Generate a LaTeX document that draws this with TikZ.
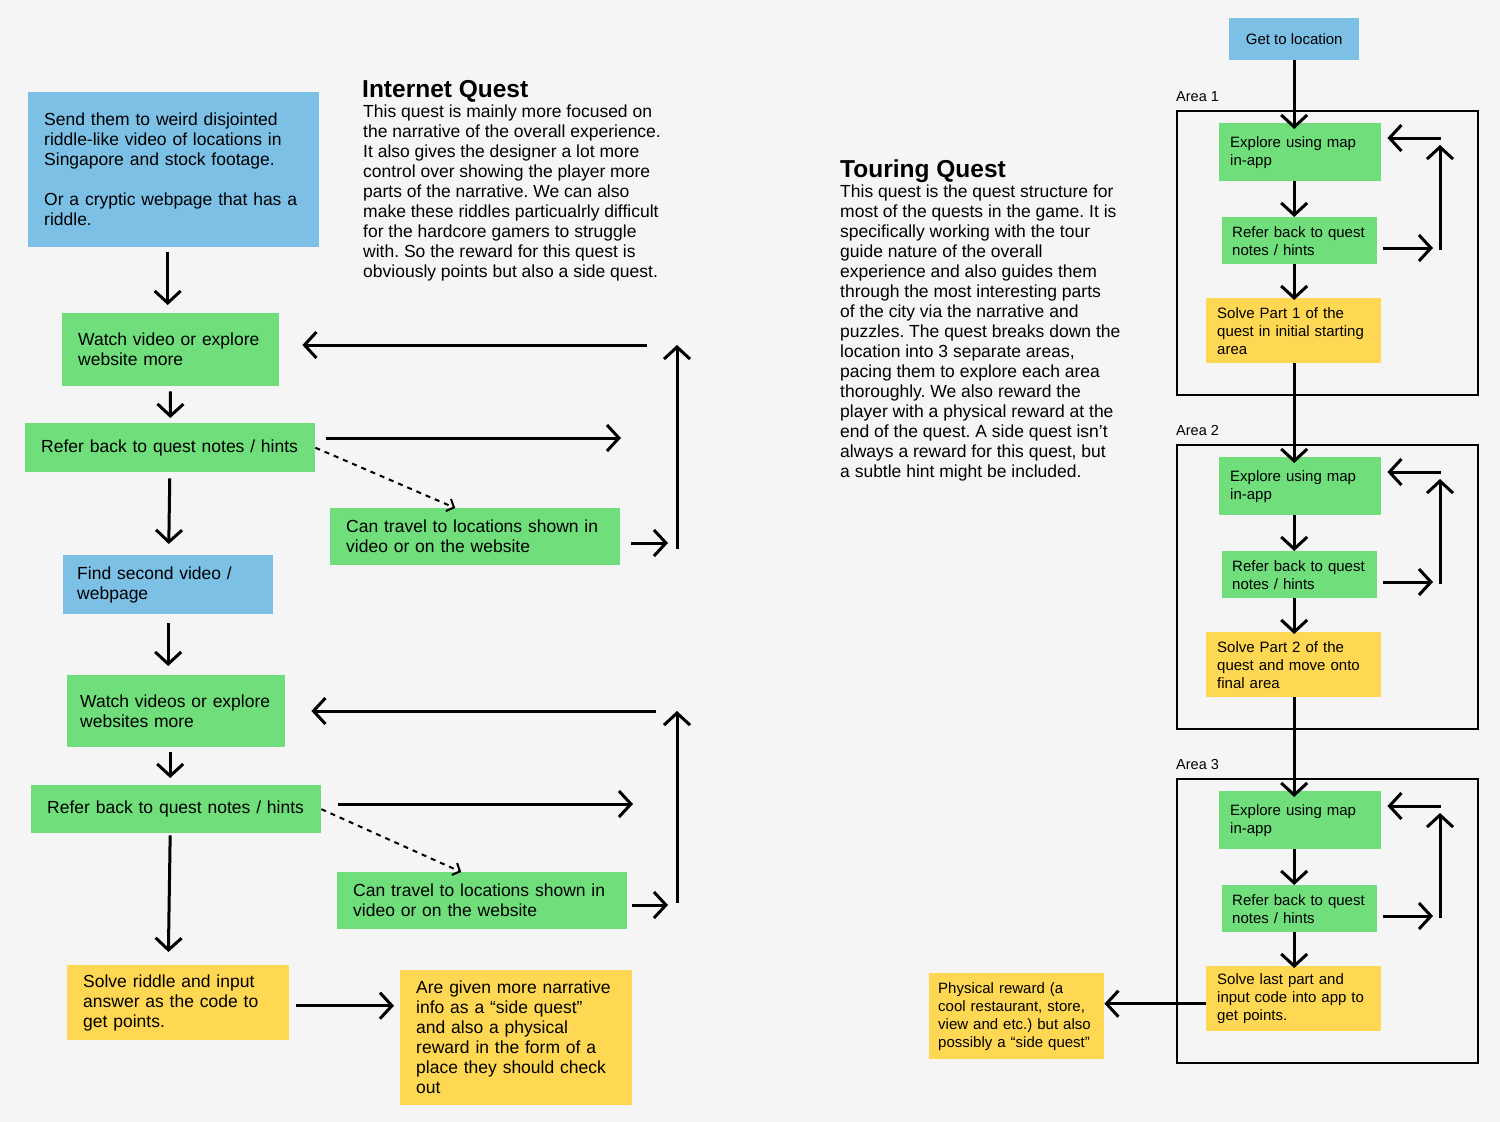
\documentclass[tikz,border=0pt]{standalone}
\usepackage{fontspec}
\setmainfont{Liberation Sans}
\usetikzlibrary{arrows.meta,positioning}
\frenchspacing

\definecolor{bgcol}{HTML}{F5F5F5}
\definecolor{qblue}{HTML}{7DC0E6}
\definecolor{qgreen}{HTML}{70DE7B}
\definecolor{qyellow}{HTML}{FFD853}

\newcommand{\bigfont}{\fontsize{17.5}{20}\selectfont}
\newcommand{\smallfont}{\fontsize{15}{18}\selectfont}
\newcommand{\areafont}{\fontsize{14.5}{17}\selectfont}
\newcommand{\headfont}{\fontsize{24.5}{28}\selectfont\bfseries}

\begin{document}
\begin{tikzpicture}[
    x=1pt, y=-1pt,
    box/.style={rectangle, anchor=north west, inner xsep=16pt, inner ysep=0pt, align=left, font=\bigfont},
    sbox/.style={box, inner xsep=11pt, font=\smallfont},
    area/.style={rectangle, draw, line width=2pt, anchor=north west, minimum width=301pt, minimum height=284pt, inner sep=0pt},
    note/.style={anchor=north west, inner sep=0pt, align=left, font=\bigfont},
    arealabel/.style={font=\areafont, anchor=south west, inner sep=0pt, yshift=8pt},
    arrow/.style={-{Straight Barb[length=12pt,width=26pt]}, line width=3pt},
    hint/.style={-{Straight Barb[length=6pt,width=13pt]}, line width=2pt, dash pattern=on 5pt off 5pt}
]
\fill[bgcol] (0,0) rectangle (1500,1122);
\useasboundingbox (0,0) rectangle (1500,1122);

% internet quest
\node[box, fill=qblue, text width=259pt, minimum height=155pt] (send) at (28,92)
    {Send them to weird disjointed\\riddle-like video of locations in\\Singapore and stock footage.\\[20pt]Or a cryptic webpage that has a\\riddle.};
\node[box, fill=qgreen, text width=185pt, minimum height=73pt] (watch1) at (62,313) {Watch video or explore\\website more};
\node[box, fill=qgreen, text width=258pt, minimum height=49pt] (refer1) at (25,423) {Refer back to quest notes / hints};
\node[box, fill=qgreen, text width=258pt, minimum height=57pt] (travel1) at (330,508) {Can travel to locations shown in\\video or on the website};
\node[box, fill=qblue, inner xsep=14pt, text width=182pt, minimum height=59pt] (find2) at (63,555) {Find second video /\\webpage};
\node[box, fill=qgreen, inner xsep=13pt, text width=192pt, minimum height=72pt] (watch2) at (67,675) {Watch videos or explore\\websites more};
\node[box, fill=qgreen, text width=258pt, minimum height=48pt] (refer2) at (31,785) {Refer back to quest notes / hints};
\node[box, fill=qgreen, text width=258pt, minimum height=57pt] (travel2) at (337,872) {Can travel to locations shown in\\video or on the website};
\node[box, fill=qyellow, text width=190pt, minimum height=75pt] (solve) at (67,965) {Solve riddle and input\\answer as the code to\\get points.};
\node[box, fill=qyellow, text width=200pt, minimum height=135pt] (given) at (400,970)
    {Are given more narrative\\info as a “side quest”\\and also a physical\\reward in the form of a\\place they should check\\out};

\node[note, font=\headfont, anchor=base west] (iqhead) at (362,97) {Internet Quest};
\node[note] (iqtext) at (363,105) {This quest is mainly more focused on\\the narrative of the overall experience.\\It also gives the designer a lot more\\control over showing the player more\\parts of the narrative. We can also\\make these riddles particualrly difficult\\for the hardcore gamers to struggle\\with. So the reward for this quest is\\obviously points but also a side quest.};

\coordinate (r1end) at (621,438);
\coordinate (t1end) at (668,543);
\coordinate (up1bot) at (677,549);
\coordinate (up1top) at (677,345);
\coordinate (back1) at (647,345);
\coordinate (r2end) at (633,804);
\coordinate (t2end) at (668,905);
\coordinate (up2bot) at (677,903);
\coordinate (up2top) at (677,711);
\coordinate (back2) at (656,711);

\draw[arrow, shorten <=5pt, shorten >=8pt] ([xshift=-6pt]send.south) -- ([xshift=-6pt]send.south |- watch1.north);
\draw[arrow, shorten <=5pt, shorten >=5pt] (watch1) -- (refer1);
\draw[arrow, shorten <=6pt, shorten >=11pt] (refer1) -- (find2);
\draw[arrow, shorten <=9pt, shorten >=9pt] (find2.south) -- (find2.south |- watch2.north);
\draw[arrow, shorten <=5pt, shorten >=7pt] ([xshift=-6pt]watch2.south) -- ([xshift=-6pt]watch2.south |- refer2.north);
\draw[arrow, shorten <=2pt, shorten >=13pt] ([xshift=-6pt]refer2.south) -- ([xshift=-10pt]solve.north);
\draw[arrow, shorten <=7pt, shorten >=6pt] ([yshift=-3pt]solve.east) -- ([yshift=-3pt]solve.east -| given.west);

\draw[arrow, shorten <=11pt] (refer1.east |- r1end) -- (r1end);
\draw[hint] (refer1.east) -- ([xshift=-20pt]travel1.north);
\draw[arrow, shorten <=11pt] (travel1.east |- t1end) -- (t1end);
\draw[arrow] (up1bot) -- (up1top);
\draw[arrow, shorten >=23pt] (back1) -- (back1 -| watch1.east);

\draw[arrow, shorten <=17pt] (refer2.east |- r2end) -- (r2end);
\draw[hint] (refer2.east) -- ([xshift=-21pt]travel2.north);
\draw[arrow, shorten <=5pt] (travel2.east |- t2end) -- (t2end);
\draw[arrow] (up2bot) -- (up2top);
\draw[arrow, shorten >=26pt] (back2) -- (back2 -| watch2.east);

% touring quest
\node[note, font=\headfont, anchor=base west] (tqhead) at (840,177) {Touring Quest};
\node[note] (tqtext) at (840,185) {This quest is the quest structure for\\most of the quests in the game. It is\\specifically working with the tour\\guide nature of the overall\\experience and also guides them\\through the most interesting parts\\of the city via the narrative and\\puzzles. The quest breaks down the\\location into 3 separate areas,\\pacing them to explore each area\\thoroughly. We also reward the\\player with a physical reward at the\\end of the quest. A side quest isn’t\\always a reward for this quest, but\\a subtle hint might be included.};

\node[sbox, fill=qblue, align=center, minimum width=130pt, minimum height=42pt] (getloc) at (1229,18) {Get to location};

\node[area, label={[arealabel]north west:Area 1}] (areaA) at (1176,110) {};
\node[sbox, fill=qgreen, text width=140pt, minimum height=58pt] (expA) at (1219,123) {Explore using map\\in-app};
\node[sbox, fill=qgreen, inner xsep=10pt, text width=135pt, minimum height=47pt] (refA) at (1222,217) {Refer back to quest\\notes / hints};
\node[sbox, fill=qyellow, text width=153pt, minimum height=65pt] (solveA) at (1206,298) {Solve Part 1 of the\\quest in initial starting\\area};

\node[area, label={[arealabel]north west:Area 2}] (areaB) at (1176,444) {};
\node[sbox, fill=qgreen, text width=140pt, minimum height=58pt] (expB) at (1219,457) {Explore using map\\in-app};
\node[sbox, fill=qgreen, inner xsep=10pt, text width=135pt, minimum height=47pt] (refB) at (1222,551) {Refer back to quest\\notes / hints};
\node[sbox, fill=qyellow, text width=153pt, minimum height=65pt] (solveB) at (1206,632) {Solve Part 2 of the\\quest and move onto\\final area};

\node[area, label={[arealabel]north west:Area 3}] (areaC) at (1176,778) {};
\node[sbox, fill=qgreen, text width=140pt, minimum height=58pt] (expC) at (1219,791) {Explore using map\\in-app};
\node[sbox, fill=qgreen, inner xsep=10pt, text width=135pt, minimum height=47pt] (refC) at (1222,885) {Refer back to quest\\notes / hints};
\node[sbox, fill=qyellow, text width=153pt, minimum height=65pt] (solveC) at (1206,966) {Solve last part and\\input code into app to\\get points.};

\node[sbox, fill=qyellow, inner xsep=9pt, text width=157pt, minimum height=86pt] (reward) at (929,973)
    {Physical reward (a\\cool restaurant, store,\\view and etc.) but also\\possibly a “side quest”};

\coordinate (loopA) at (1433,248);
\coordinate (upAbot) at (1440,250);
\coordinate (upAtop) at (1440,145);
\coordinate (backA) at (1441,138);
\coordinate (loopB) at (1433,582);
\coordinate (upBbot) at (1440,584);
\coordinate (upBtop) at (1440,479);
\coordinate (backB) at (1441,472);
\coordinate (loopC) at (1433,916);
\coordinate (upCbot) at (1440,918);
\coordinate (upCtop) at (1440,813);
\coordinate (backC) at (1441,806);

\draw[arrow, shorten >=-6pt] (getloc.south) -- (getloc.south |- expA.north);
\draw[arrow] (getloc.south |- expA.south) -- (getloc.south |- refA.north);
\draw[arrow, shorten >=-2pt] (getloc.south |- refA.south) -- (getloc.south |- solveA.north);
\draw[arrow, shorten >=-6pt] (getloc.south |- solveA.south) -- (getloc.south |- expB.north);
\draw[arrow] (getloc.south |- expB.south) -- (getloc.south |- refB.north);
\draw[arrow, shorten >=-2pt] (getloc.south |- refB.south) -- (getloc.south |- solveB.north);
\draw[arrow, shorten >=-6pt] (getloc.south |- solveB.south) -- (getloc.south |- expC.north);
\draw[arrow] (getloc.south |- expC.south) -- (getloc.south |- refC.north);
\draw[arrow, shorten >=-2pt] (getloc.south |- refC.south) -- (getloc.south |- solveC.north);
\draw[arrow] ([yshift=-5pt]solveC.west) -- ([yshift=-5pt]solveC.west -| reward.east);

\draw[arrow, shorten <=6pt] (refA.east |- loopA) -- (loopA);
\draw[arrow] (upAbot) -- (upAtop);
\draw[arrow, shorten >=6pt] (backA) -- (backA -| expA.east);
\draw[arrow, shorten <=6pt] (refB.east |- loopB) -- (loopB);
\draw[arrow] (upBbot) -- (upBtop);
\draw[arrow, shorten >=6pt] (backB) -- (backB -| expB.east);
\draw[arrow, shorten <=6pt] (refC.east |- loopC) -- (loopC);
\draw[arrow] (upCbot) -- (upCtop);
\draw[arrow, shorten >=6pt] (backC) -- (backC -| expC.east);
\end{tikzpicture}
\end{document}
